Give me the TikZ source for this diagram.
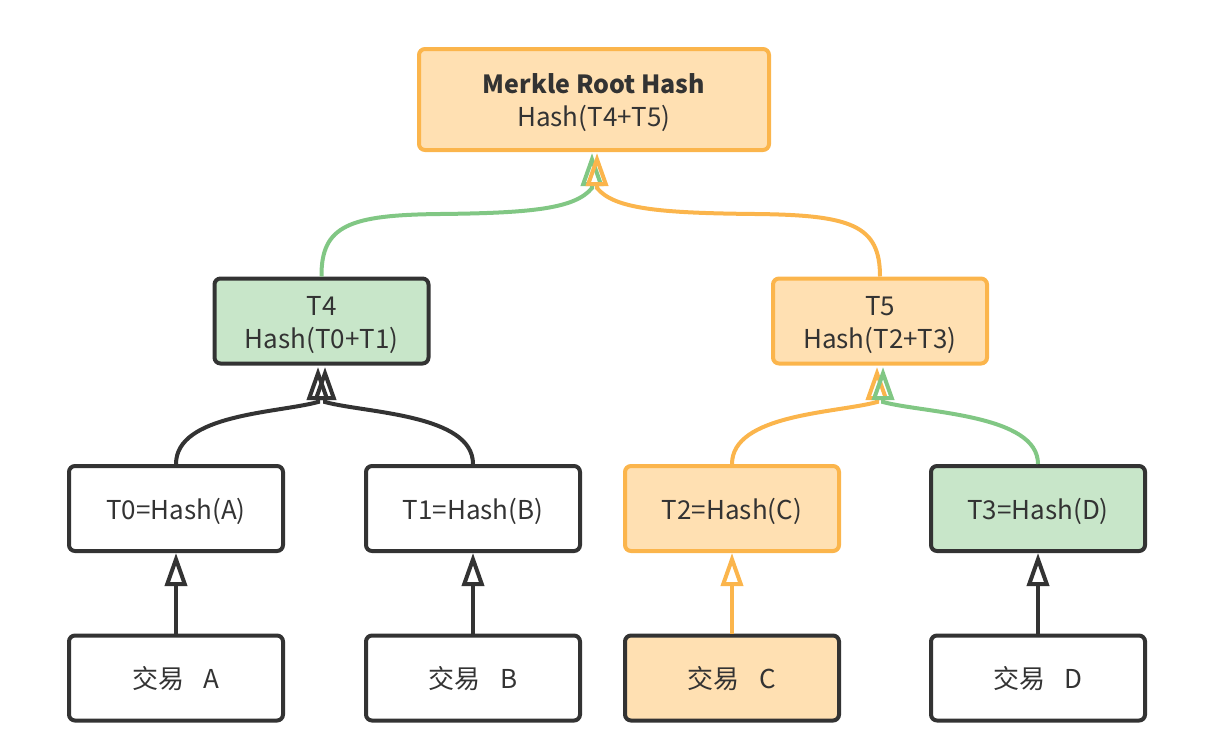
\documentclass[tikz,border=0pt]{standalone}
\usepackage{fontspec}
\setmainfont{Noto Sans CJK SC}
\usetikzlibrary{arrows.meta}
\definecolor{dark}{HTML}{333333}
\definecolor{ofill}{HTML}{FFE0B2}
\definecolor{oline}{HTML}{FBB54C}
\definecolor{gfill}{HTML}{C8E6C9}
\definecolor{gline}{HTML}{81C784}
\newcommand\lw[1]{\raisebox{-4pt}[\height][\depth]{\begin{tabular}{@{}c@{}}#1\end{tabular}}}
\tikzset{
  box/.style={draw=dark, line width=4pt, rounded corners=6pt, minimum width=214pt,
    minimum height=85pt, text=dark, inner sep=0pt,
    font=\fontsize{26}{33}\selectfont},
  obox/.style={box, draw=oline, fill=ofill},
  gbox/.style={box, fill=gfill},
  cbox/.style={box, fill=ofill},
  conn/.style={line width=4pt, -{Triangle[open, length=33pt, width=22pt]}},
  blk/.style={conn, draw=dark},
  org/.style={conn, draw=oline},
  grn/.style={conn, draw=gline},
}
\begin{document}
\begin{tikzpicture}[x=1pt, y=-1pt]
\useasboundingbox (0,0) rectangle (1222,755);
\node[obox, minimum width=350pt, minimum height=101pt] (root) at (594,99.5)
  {\lw{{\fontsize{25}{33}\selectfont\textbf{Merkle Root Hash}}\\Hash(T4+T5)}};
\node[gbox] (T4) at (321.5,321) {\lw{T4\\Hash(T0+T1)}};
\node[obox] (T5) at (880,321) {\lw{T5\\Hash(T2+T3)}};
\node[box] (T0) at (176,508.5) {\lw{T0=Hash(A)}};
\node[box] (T1) at (473,508.5) {\lw{T1=Hash(B)}};
\node[obox] (T2) at (732,508.5) {\lw{T2=Hash(C)}};
\node[gbox] (T3) at (1038,508.5) {\lw{T3=Hash(D)}};
\node[box] (A) at (176,678) {\lw{交易\hspace{0.75em}A}};
\node[box] (B) at (473,678) {\lw{交易\hspace{0.75em}B}};
\node[cbox] (C) at (732,678) {\lw{交易\hspace{0.75em}C}};
\node[box] (D) at (1038,678) {\lw{交易\hspace{0.75em}D}};
% tip points
\coordinate (rL) at (592,153);
\coordinate (rR) at (597,153);
\coordinate (t4L) at (318,367);
\coordinate (t4R) at (325,367);
\coordinate (t5L) at (877,367);
\coordinate (t5R) at (883,367);
% connectors
\draw[grn] (T4.north) .. controls (321,225) and (350,215) .. (440,214)
  .. controls (530,213) and (575,209) .. (592,188) -- (rL);
\draw[org] (T5.north) .. controls (880,225) and (851,215) .. (755,214)
  .. controls (660,213) and (614,209) .. (597,188) -- (rR);
\draw[blk] (T0.north) .. controls (176,414) and (278,413) .. (318,402) -- (t4L);
\draw[blk] (T1.north) .. controls (473,414) and (365,413) .. (325,402) -- (t4R);
\draw[org] (T2.north) .. controls (732,414) and (837,413) .. (877,402) -- (t5L);
\draw[grn] (T3.north) .. controls (1038,414) and (923,413) .. (883,402) -- (t5R);
\draw[blk] (A) -- (T0);
\draw[blk] (B) -- (T1);
\draw[org] (C) -- (T2);
\draw[blk] (D) -- (T3);
\end{tikzpicture}
\end{document}
